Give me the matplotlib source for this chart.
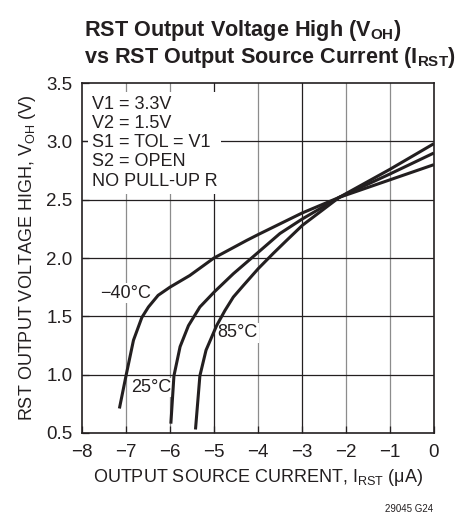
import matplotlib
matplotlib.use('Agg')
import matplotlib.pyplot as plt

plt.rcParams['font.family'] = ['Liberation Sans', 'DejaVu Sans']
plt.rcParams['mathtext.fontset'] = 'custom'
plt.rcParams['mathtext.rm'] = 'Liberation Sans'
plt.rcParams['mathtext.bf'] = 'Liberation Sans:bold'

# curves (I_RST in uA, V_OH in V)
x_m40 = [-7.15, -7.0, -6.83, -6.64, -6.49, -6.27, -6.0, -5.55, -5.0, -4.26, -4.0, -3.0, -2.15, -1.0, 0.0]
y_m40 = [0.71, 0.99, 1.295, 1.49, 1.58, 1.68, 1.75, 1.85, 2.0, 2.15, 2.20, 2.385, 2.52, 2.67, 2.80]

x_25 = [-5.98, -5.91, -5.77, -5.58, -5.32, -4.99, -4.56, -3.99, -3.5, -2.99, -2.15, -1.0, 0.0]
y_25 = [0.58, 0.99, 1.24, 1.42, 1.58, 1.71, 1.865, 2.05, 2.21, 2.335, 2.52, 2.72, 2.90]

x_85 = [-5.42, -5.32, -5.18, -4.94, -4.75, -4.56, -4.33, -3.99, -3.65, -3.35, -2.99, -2.15, -1.0, 0.0]
y_85 = [0.53, 0.99, 1.21, 1.42, 1.55, 1.665, 1.765, 1.91, 2.04, 2.15, 2.28, 2.52, 2.76, 2.98]

curve_labels = ['\u221240\u00b0C', '25\u00b0C', '85\u00b0C']
label_pos = [(-7.0, 1.70), (-6.43, 0.89), (-4.46, 1.36)]

x_ticks = [-8, -7, -6, -5, -4, -3, -2, -1, 0]
y_ticks = [0.5, 1.0, 1.5, 2.0, 2.5, 3.0, 3.5]

conditions = 'V1 = 3.3V\nV2 = 1.5V\nS1 = TOL = V1\nS2 = OPEN\nNO PULL-UP R'

fig = plt.figure(figsize=(4.7, 5.14), dpi=100)
ax = fig.add_axes([0.1745, 0.1576, 0.7486, 0.6809])

# grid drawn by hand, some verticals are lighter in the original
gray_x = [-7, -6, -4, -2, -1]
for xv in x_ticks[1:-1]:
    c = '#8c8c8c' if xv in gray_x else '#231f20'
    ax.axvline(xv, color=c, lw=0.9, zorder=1)
for yv in y_ticks[1:-1]:
    ax.axhline(yv, color='#231f20', lw=0.9, zorder=1)

for xs, ys in [(x_m40, y_m40), (x_25, y_25), (x_85, y_85)]:
    ax.plot(xs, ys, color='#231f20', lw=2.2, zorder=3, solid_capstyle='butt',
            solid_joinstyle='round')

for lab, (lx, ly) in zip(curve_labels, label_pos):
    ax.text(lx, ly, lab, fontsize=13, ha='center', va='center', color='#231f20', zorder=2,
            bbox=dict(facecolor='white', edgecolor='none', pad=1.0))

ax.text(-7.78, 3.39, conditions, fontsize=13, ha='left', va='top', color='#231f20',
        linespacing=1.17, zorder=2,
        bbox=dict(facecolor='white', edgecolor='none', pad=3.0))

ax.set_xlim(-8, 0)
ax.set_ylim(0.5, 3.5)
ax.set_xticks(x_ticks)
ax.set_yticks(y_ticks)
ax.set_yticklabels(['%.1f' % v for v in y_ticks])
ax.tick_params(direction='in', length=5, width=0.9, labelsize=13.5, colors='#231f20')
ax.tick_params(axis='x', pad=8)
ax.tick_params(axis='y', pad=7)
for s in ax.spines.values():
    s.set_linewidth(1.2)
    s.set_color('#231f20')

ax.set_xlabel(r'OUTPUT SOURCE CURRENT, I$_{\mathrm{RST}}$ ($\mathrm{\mu}$A)', fontsize=13,
              color='#231f20', labelpad=4)
ax.set_ylabel(r'RST OUTPUT VOLTAGE HIGH, V$_{\mathrm{OH}}$ (V)', fontsize=13,
              color='#231f20', labelpad=6)

fig.text(84 / 470, 1 - 36 / 514, r'RST Output Voltage High (V$_{\mathbf{OH}}$)',
         fontsize=15.6, fontweight='bold', ha='left', va='baseline', color='#231f20')
fig.text(84 / 470, 1 - 63 / 514, r'vs RST Output Source Current (I$_{\mathbf{RST}}$)',
         fontsize=15.6, fontweight='bold', ha='left', va='baseline', color='#231f20')

fig.text(433 / 470, 1 - 512 / 514, '29045 G24', fontsize=7, ha='right', va='baseline',
         color='#231f20')

fig.savefig('out.png', dpi=100)
